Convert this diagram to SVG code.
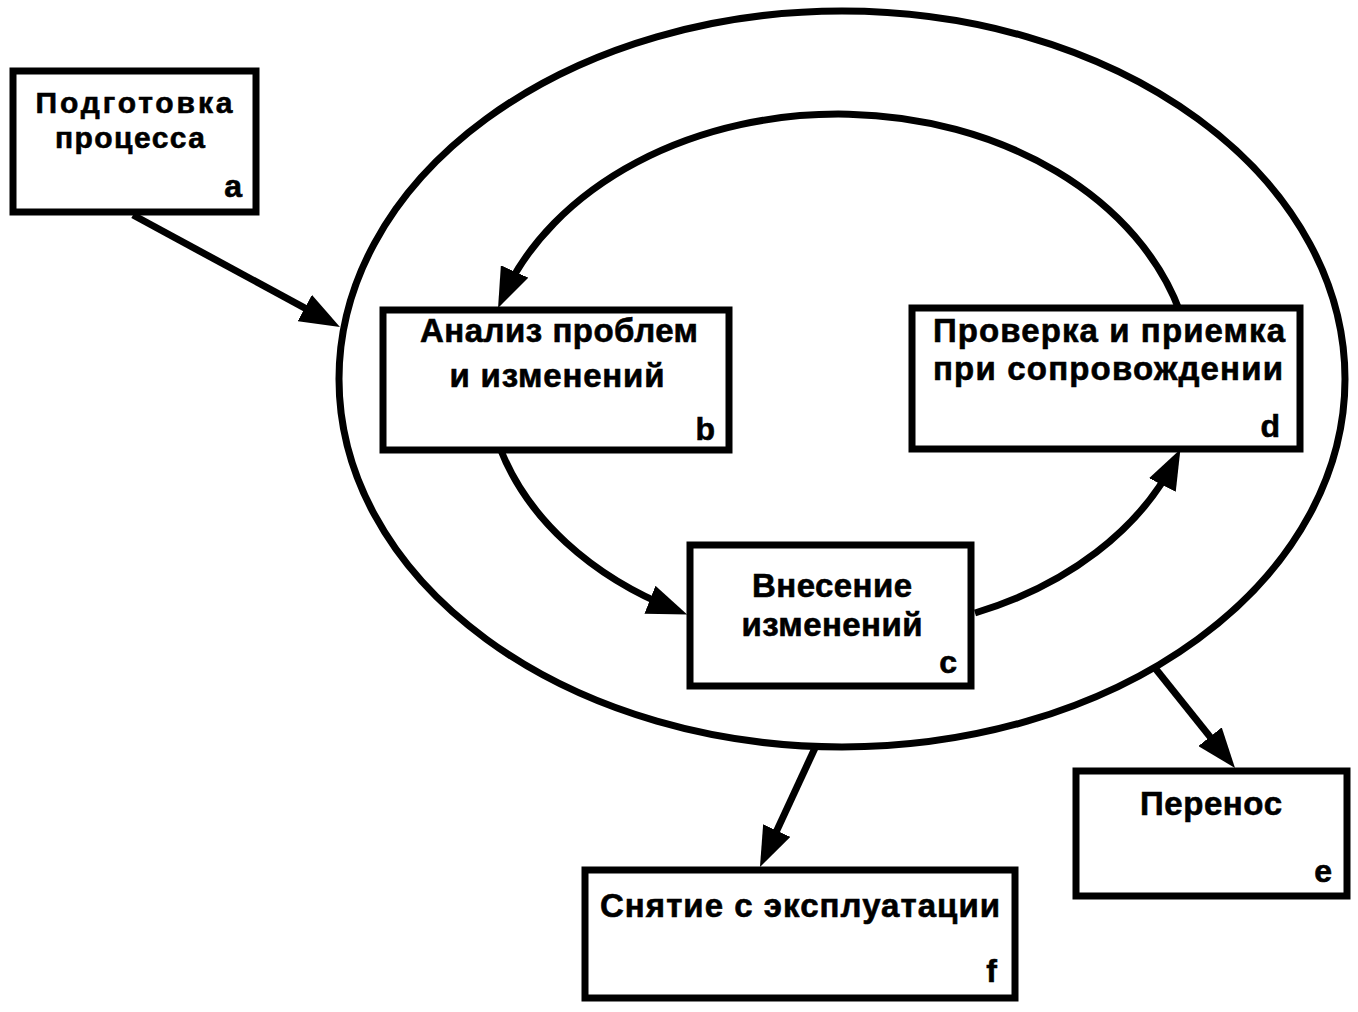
<svg xmlns="http://www.w3.org/2000/svg" width="1358" height="1012" viewBox="0 0 1358 1012">
<style>
.box{fill:#fff;stroke:#000;stroke-width:7}
.t{font-family:"Liberation Sans",Arial,sans-serif;font-weight:bold;font-size:33px;fill:#000;stroke:#000;stroke-width:0.6;text-anchor:middle}
.s{font-size:30px}
.l{font-family:"Liberation Sans",Arial,sans-serif;font-weight:bold;font-size:32px;fill:#000;stroke:#000;stroke-width:0.6;text-anchor:end}
.c{fill:none;stroke:#000;stroke-width:7;marker-end:url(#ah)}
</style>
<defs>
<marker id="ah" viewBox="0 0 40 30" refX="28" refY="15" markerWidth="40" markerHeight="30" markerUnits="userSpaceOnUse" orient="auto"><path d="M0,0 L40,15 L0,30 z" fill="#000"/></marker>
</defs>
<rect width="1358" height="1012" fill="#fff"/>
<g id="cycle-boundary"><ellipse cx="842" cy="379" rx="503" ry="368" fill="none" stroke="#000" stroke-width="7"/></g>
<g id="connectors">
<path class="c" d="M133,215 L329.4,321.4"/>
<path class="c" d="M815,748 L765,856"/>
<path class="c" d="M1155,668 L1227.5,758.6"/>
<path class="c" d="M1180,312 A355,272 0 0,0 503,297"/>
<path class="c" d="M500,448 A355,267 0 0,0 676,610"/>
<path class="c" d="M975,613 A355,267 0 0,0 1175,460"/>
</g>
<g id="node-a"><rect class="box" x="13" y="71" width="243" height="141"/>
<text class="t s" x="134" y="113" textLength="197">Подготовка</text>
<text class="t s" x="130" y="148" textLength="150">процесса</text>
<text class="l" x="242" y="197">a</text></g>
<g id="node-b"><rect class="box" x="383" y="310" width="346" height="140"/>
<text class="t" x="559" y="342" textLength="278">Анализ проблем</text>
<text class="t" x="557" y="387" textLength="215">и изменений</text>
<text class="l" x="715" y="440">b</text></g>
<g id="node-d"><rect class="box" x="912" y="308" width="388" height="141"/>
<text class="t" x="1109" y="342" textLength="352">Проверка и приемка</text>
<text class="t" x="1108" y="380" textLength="350">при сопровождении</text>
<text class="l" x="1280" y="437">d</text></g>
<g id="node-c"><rect class="box" x="690" y="545" width="281" height="141"/>
<text class="t" x="832" y="597" textLength="160">Внесение</text>
<text class="t" x="832" y="636" textLength="181">изменений</text>
<text class="l" x="957" y="673">c</text></g>
<g id="node-e"><rect class="box" x="1076" y="771" width="271" height="125"/>
<text class="t" x="1211" y="815" textLength="142">Перенос</text>
<text class="l" x="1332" y="882">e</text></g>
<g id="node-f"><rect class="box" x="585" y="870" width="430" height="128"/>
<text class="t" x="800" y="917" textLength="400">Снятие с эксплуатации</text>
<text class="l" x="997" y="982">f</text></g>
</svg>
